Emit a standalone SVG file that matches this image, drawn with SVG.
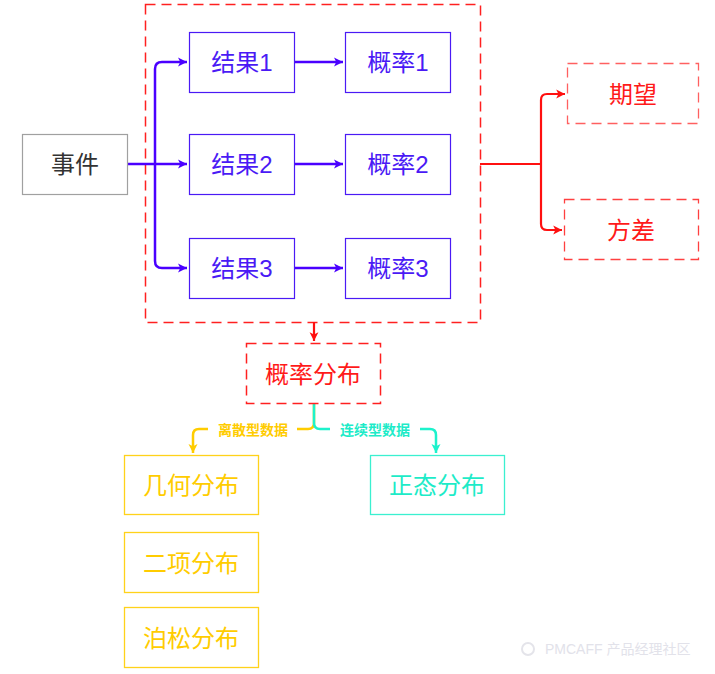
<svg xmlns="http://www.w3.org/2000/svg" width="715" height="674" viewBox="0 0 715 674">
<style>
.t{font-family:"Liberation Sans","Noto Sans CJK SC",sans-serif;font-size:24px;text-anchor:middle;dominant-baseline:central}
.lb{font-family:"Liberation Sans","Noto Sans CJK SC",sans-serif;font-size:14px;font-weight:bold;text-anchor:middle;dominant-baseline:central}
.blue{fill:#fff;stroke:#4A1AF5;stroke-width:1.2}
.bt{fill:#4A1AF5}
.red{fill:none;stroke:#FF2020;stroke-width:1.5;stroke-dasharray:10,6}
.rt{fill:#FF1A1A}
.yel{fill:#fff;stroke:#FFD21A;stroke-width:1.3}
.yt{fill:#FFCC00}
.tea{fill:#fff;stroke:#3BF0D0;stroke-width:1.3}
.tt{fill:#1DEBC8}
.cb{fill:none;stroke:#4A00FF;stroke-width:2.5}
.cr{fill:none;stroke:#FF1010;stroke-width:2.2}
.cy{fill:none;stroke:#FFCC00;stroke-width:2.5}
.ct{fill:none;stroke:#1DF2CC;stroke-width:2.5}
</style>
<defs>
<marker id="ab" viewBox="0 0 10 10" refX="9" refY="5" markerWidth="4.5" markerHeight="4.5" orient="auto" markerUnits="strokeWidth"><path d="M1,1 L9,5 L1,9 L3,5 Z" fill="#4A00FF"/></marker>
<marker id="ar" viewBox="0 0 10 10" refX="9" refY="5" markerWidth="5" markerHeight="5" orient="auto" markerUnits="strokeWidth"><path d="M1,1 L9,5 L1,9 L3,5 Z" fill="#FF1010"/></marker>
<marker id="ay" viewBox="0 0 10 10" refX="9" refY="5" markerWidth="4.5" markerHeight="4.5" orient="auto" markerUnits="strokeWidth"><path d="M1,1 L9,5 L1,9 L3,5 Z" fill="#FFCC00"/></marker>
<marker id="at" viewBox="0 0 10 10" refX="9" refY="5" markerWidth="4.5" markerHeight="4.5" orient="auto" markerUnits="strokeWidth"><path d="M1,1 L9,5 L1,9 L3,5 Z" fill="#1DF2CC"/></marker>
</defs>
<rect width="715" height="674" fill="#fff"/>
<g id="group-box"><rect x="145.5" y="4.5" width="335" height="318" class="red"/></g>
<g id="connectors">
<path d="M127,164 H155" class="cb"/>
<path d="M155,164 V69 Q155,62 162,62 H187" class="cb" marker-end="url(#ab)"/>
<path d="M155,164 H187" class="cb" marker-end="url(#ab)"/>
<path d="M155,164 V261 Q155,268 162,268 H187" class="cb" marker-end="url(#ab)"/>
<path d="M294,62 H343" class="cb" marker-end="url(#ab)"/>
<path d="M294,164 H343" class="cb" marker-end="url(#ab)"/>
<path d="M294,268 H343" class="cb" marker-end="url(#ab)"/>
<path d="M480,164 H541" class="cr"/>
<path d="M541,164 V100 Q541,94 547,94 H565" class="cr" marker-end="url(#ar)"/>
<path d="M541,164 V224 Q541,230 547,230 H562" class="cr" marker-end="url(#ar)"/>
<path d="M314,322 V341" class="cr" marker-end="url(#ar)"/>
<path d="M314,403 V423 Q314,429 308,429 H297" class="cy"/>
<path d="M314,403 V423 Q314,429 320,429 H330" class="ct"/>
<path d="M208,429 H199 Q193,429 193,435 V453" class="cy" marker-end="url(#ay)"/>
<path d="M420,429 H430 Q436,429 436,435 V453" class="ct" marker-end="url(#at)"/>
<text x="253" y="430" class="lb yt">离散型数据</text>
<text x="375" y="430" class="lb tt">连续型数据</text>
</g>
<g id="event"><rect x="22.5" y="134.5" width="105" height="60" fill="#fff" stroke="#A0A0A0" stroke-width="1.2"/><text x="75" y="164" class="t" fill="#333">事件</text></g>
<g id="result1"><rect x="189.5" y="32.5" width="105" height="60" class="blue"/><text x="242" y="62" class="t bt">结果1</text></g>
<g id="result2"><rect x="189.5" y="134.5" width="105" height="60" class="blue"/><text x="242" y="164" class="t bt">结果2</text></g>
<g id="result3"><rect x="189.5" y="238.5" width="105" height="60" class="blue"/><text x="242" y="268" class="t bt">结果3</text></g>
<g id="prob1"><rect x="345.5" y="32.5" width="105" height="60" class="blue"/><text x="398" y="62" class="t bt">概率1</text></g>
<g id="prob2"><rect x="345.5" y="134.5" width="105" height="60" class="blue"/><text x="398" y="164" class="t bt">概率2</text></g>
<g id="prob3"><rect x="345.5" y="238.5" width="105" height="60" class="blue"/><text x="398" y="268" class="t bt">概率3</text></g>
<g id="expectation"><rect x="567.5" y="63.5" width="131" height="60" fill="#fff" stroke="#FF6060" stroke-width="1.3" stroke-dasharray="10,6"/><text x="633" y="94" class="t rt">期望</text></g>
<g id="variance"><rect x="564.5" y="199.5" width="134" height="60" fill="#fff" stroke="#FF4040" stroke-width="1.3" stroke-dasharray="10,6"/><text x="631" y="230" class="t rt">方差</text></g>
<g id="distribution"><rect x="246.5" y="343.5" width="134" height="60" fill="#fff" class="red"/><text x="313" y="374" class="t rt">概率分布</text></g>
<g id="geometric"><rect x="124.5" y="455.5" width="134" height="59" class="yel"/><text x="191" y="485" class="t yt">几何分布</text></g>
<g id="binomial"><rect x="124.5" y="532.5" width="134" height="60" class="yel"/><text x="191" y="563" class="t yt">二项分布</text></g>
<g id="poisson"><rect x="124.5" y="607.5" width="134" height="60" class="yel"/><text x="191" y="638" class="t yt">泊松分布</text></g>
<g id="normal"><rect x="370.5" y="455.5" width="134" height="59" class="tea"/><text x="437" y="485" class="t tt">正态分布</text></g>
<g id="watermark"><circle cx="528" cy="649" r="6" fill="none" stroke="#E4E4EA" stroke-width="2"/><text x="545" y="649" font-family="Liberation Sans,'Noto Sans CJK SC',sans-serif" font-size="14" fill="#E2E2EA" dominant-baseline="central">PMCAFF 产品经理社区</text></g>
</svg>
